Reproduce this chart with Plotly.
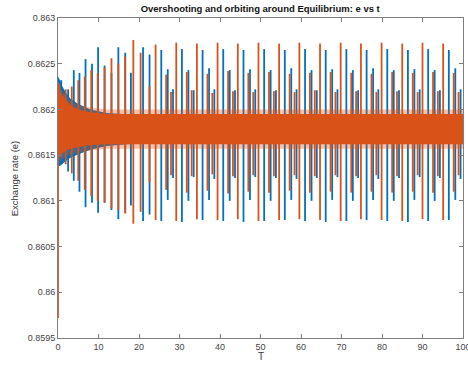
import plotly.graph_objects as go

# ---- data ----
x_ticks = [0, 10, 20, 30, 40, 50, 60, 70, 80, 90, 100]
y_ticks = [0.8595, 0.86, 0.8605, 0.861, 0.8615, 0.862, 0.8625, 0.863]
y_tick_labels = ["0.8595", "0.86", "0.8605", "0.861", "0.8615", "0.862", "0.8625", "0.863"]

# dense oscillation band (envelope) of each series: core and fuzzy fringe
band_t = [0, 0.5, 1, 2, 3, 5, 8, 12, 20, 100]
orange_band_hi = [0.86226, 0.86222, 0.86216, 0.86210, 0.86205, 0.86200, 0.86197, 0.86195, 0.86195, 0.86195]
orange_band_lo = [0.86150, 0.86150, 0.86152, 0.86155, 0.86157, 0.86159, 0.86161, 0.86162, 0.86162, 0.86162]
orange_fringe_hi = [0.86230, 0.86226, 0.86220, 0.86214, 0.86209, 0.86205, 0.86202, 0.86200, 0.86200, 0.86200]
orange_fringe_lo = [0.86144, 0.86144, 0.86146, 0.86149, 0.86151, 0.86153, 0.86155, 0.86157, 0.86157, 0.86157]
blue_band_hi = [0.86236, 0.86232, 0.86226, 0.86218, 0.86212, 0.86206, 0.86200, 0.86196, 0.86194, 0.86194]
blue_band_lo = [0.86138, 0.86138, 0.86140, 0.86144, 0.86147, 0.86151, 0.86156, 0.86160, 0.86163, 0.86163]

# large swings (time, peak, trough)
blue_t = [0.8, 2.5, 3.9, 5.3, 6.8, 8.4, 9.9, 11.5, 13.2, 14.9, 16.6, 18.0, 21.0, 22.6,
          25.5, 27.1, 28.4, 30.6, 32.2, 33.5, 35.7, 37.3, 38.6, 40.8, 42.4, 43.7,
          45.8, 47.4, 48.7, 50.9, 52.5, 53.8, 56.0, 57.6, 58.9, 61.0, 62.6, 63.9,
          66.1, 67.7, 69.0, 71.2, 72.8, 74.1, 76.2, 77.8, 79.1, 81.3, 82.9, 84.2,
          86.4, 88.0, 89.3, 91.4, 93.0, 94.3, 96.5, 98.1, 99.4]
blue_hi = [0.86232, 0.86222, 0.86243, 0.86240, 0.86255, 0.86250, 0.86268, 0.86248, 0.86240, 0.86268, 0.86262, 0.86240, 0.86268, 0.86260,
           0.86265, 0.86244, 0.86222, 0.86266, 0.86243, 0.86221, 0.86265, 0.86245, 0.86222, 0.86266, 0.86243, 0.86221,
           0.86265, 0.86244, 0.86222, 0.86266, 0.86243, 0.86221, 0.86265, 0.86245, 0.86222, 0.86266, 0.86243, 0.86221,
           0.86265, 0.86244, 0.86222, 0.86266, 0.86243, 0.86221, 0.86265, 0.86245, 0.86222, 0.86266, 0.86243, 0.86221,
           0.86265, 0.86244, 0.86222, 0.86266, 0.86243, 0.86221, 0.86265, 0.86245, 0.86222]
blue_lo = [0.86140, 0.86132, 0.86122, 0.86110, 0.86093, 0.86098, 0.86087, 0.86098, 0.86090, 0.86080, 0.86088, 0.86095, 0.86078, 0.86085,
           0.86078, 0.86101, 0.86125, 0.86077, 0.86100, 0.86126, 0.86079, 0.86101, 0.86124, 0.86078, 0.86100, 0.86125,
           0.86077, 0.86101, 0.86126, 0.86078, 0.86100, 0.86125, 0.86079, 0.86101, 0.86124, 0.86078, 0.86100, 0.86125,
           0.86077, 0.86101, 0.86126, 0.86078, 0.86100, 0.86125, 0.86079, 0.86101, 0.86124, 0.86078, 0.86100, 0.86125,
           0.86077, 0.86101, 0.86126, 0.86078, 0.86100, 0.86125, 0.86079, 0.86101, 0.86124]

orange_t = [0.0, 0.3, 1.9, 3.4, 5.0, 6.6, 8.2, 9.8, 11.5, 13.2, 14.9, 16.6, 18.6, 20.4, 22.6,
            24.1, 26.7, 27.9, 29.2, 31.8, 33.0, 34.3, 36.9, 38.1, 39.4, 42.0, 43.2,
            44.4, 47.0, 48.2, 49.5, 52.1, 53.3, 54.6, 57.2, 58.4, 59.6, 62.2, 63.4,
            64.7, 67.3, 68.5, 69.8, 72.4, 73.6, 74.8, 77.4, 78.6, 79.9, 82.5, 83.7,
            85.0, 87.6, 88.8, 90.0, 92.6, 93.8, 95.1, 97.7, 98.9]
orange_hi = [0.86230, 0.86228, 0.86222, 0.86225, 0.86232, 0.86236, 0.86243, 0.86240, 0.86246, 0.86256, 0.86250, 0.86258, 0.86276, 0.86262, 0.86225,
             0.86271, 0.86238, 0.86219, 0.86273, 0.86241, 0.86221, 0.86272, 0.86239, 0.86218, 0.86273, 0.86242, 0.86220,
             0.86272, 0.86240, 0.86219, 0.86273, 0.86241, 0.86220, 0.86272, 0.86239, 0.86219, 0.86273, 0.86240, 0.86221,
             0.86272, 0.86241, 0.86219, 0.86273, 0.86240, 0.86220, 0.86272, 0.86239, 0.86219, 0.86273, 0.86241, 0.86220,
             0.86272, 0.86240, 0.86219, 0.86273, 0.86241, 0.86220, 0.86272, 0.86240, 0.86219]
orange_lo = [0.85972, 0.86148, 0.86140, 0.86130, 0.86122, 0.86112, 0.86105, 0.86100, 0.86098, 0.86092, 0.86090, 0.86086, 0.86075, 0.86088, 0.86120,
             0.86079, 0.86112, 0.86128, 0.86078, 0.86109, 0.86127, 0.86080, 0.86111, 0.86129, 0.86079, 0.86108, 0.86127,
             0.86080, 0.86110, 0.86128, 0.86078, 0.86109, 0.86127, 0.86079, 0.86111, 0.86128, 0.86080, 0.86109, 0.86127,
             0.86079, 0.86110, 0.86128, 0.86078, 0.86109, 0.86127, 0.86080, 0.86110, 0.86128, 0.86079, 0.86109, 0.86127,
             0.86078, 0.86110, 0.86128, 0.86080, 0.86109, 0.86127, 0.86079, 0.86110, 0.86128]

BLUE = "#0072BD"
ORANGE = "#D95319"
ORANGE_FRINGE = "rgba(217,83,25,0.35)"


def band_trace(t, hi, lo, color):
    return go.Scatter(x=list(t) + list(t)[::-1], y=list(hi) + list(lo)[::-1],
                      fill="toself", fillcolor=color, mode="lines",
                      line=dict(width=0, color=color), hoverinfo="skip", showlegend=False)


def swing_trace(t, hi, lo, color):
    xs, ys = [], []
    for ti, h, l in zip(t, hi, lo):
        xs += [ti, ti, None]
        ys += [l, h, None]
    return go.Scatter(x=xs, y=ys, mode="lines", line=dict(width=1.8, color=color),
                      connectgaps=False, showlegend=False)


fig = go.Figure()
fig.add_trace(band_trace(band_t, blue_band_hi, blue_band_lo, BLUE))
fig.add_trace(swing_trace(blue_t, blue_hi, blue_lo, BLUE))
fig.add_trace(band_trace(band_t, orange_fringe_hi, orange_fringe_lo, ORANGE_FRINGE))
fig.add_trace(band_trace(band_t, orange_band_hi, orange_band_lo, ORANGE))
fig.add_trace(swing_trace(orange_t, orange_hi, orange_lo, ORANGE))

axis_common = dict(showgrid=False, zeroline=False, showline=True, linecolor="#7f7f7f",
                   linewidth=1, mirror="ticks", ticks="inside", ticklen=4,
                   tickcolor="#7f7f7f", tickfont=dict(size=9, color="#444444"),
                   automargin=False, ticklabeloverflow="allow")

fig.update_layout(
    width=468, height=365,
    margin=dict(l=58, r=5, t=18, b=27),
    paper_bgcolor="white", plot_bgcolor="white",
    font=dict(family="Liberation Sans, Arial, sans-serif", size=9, color="#333333"),
    title=dict(text="<b>Overshooting and orbiting around Equilibrium: e vs t</b>",
               x=0.556, xanchor="center", y=0.975, yanchor="middle",
               font=dict(size=9.5, color="#111111")),
    xaxis=dict(range=[0, 100], tickvals=x_ticks, ticktext=[str(v) for v in x_ticks],
               **axis_common),
    yaxis=dict(range=[0.8595, 0.863], tickvals=y_ticks, ticktext=y_tick_labels,
               **axis_common),
    annotations=[
        dict(text="T", xref="paper", yref="paper", x=0.5, y=-0.057, xanchor="center",
             yanchor="middle", showarrow=False, font=dict(size=10, color="#333333")),
        dict(text="Exchange rate (e)", xref="paper", yref="paper", x=-0.108, y=0.5,
             xanchor="center", yanchor="middle", textangle=-90, showarrow=False,
             font=dict(size=9.5, color="#333333")),
    ],
)

fig.write_html("out.html", config={"displayModeBar": False},
               post_script="document.body.style.margin='0';document.body.style.overflow='hidden';")
